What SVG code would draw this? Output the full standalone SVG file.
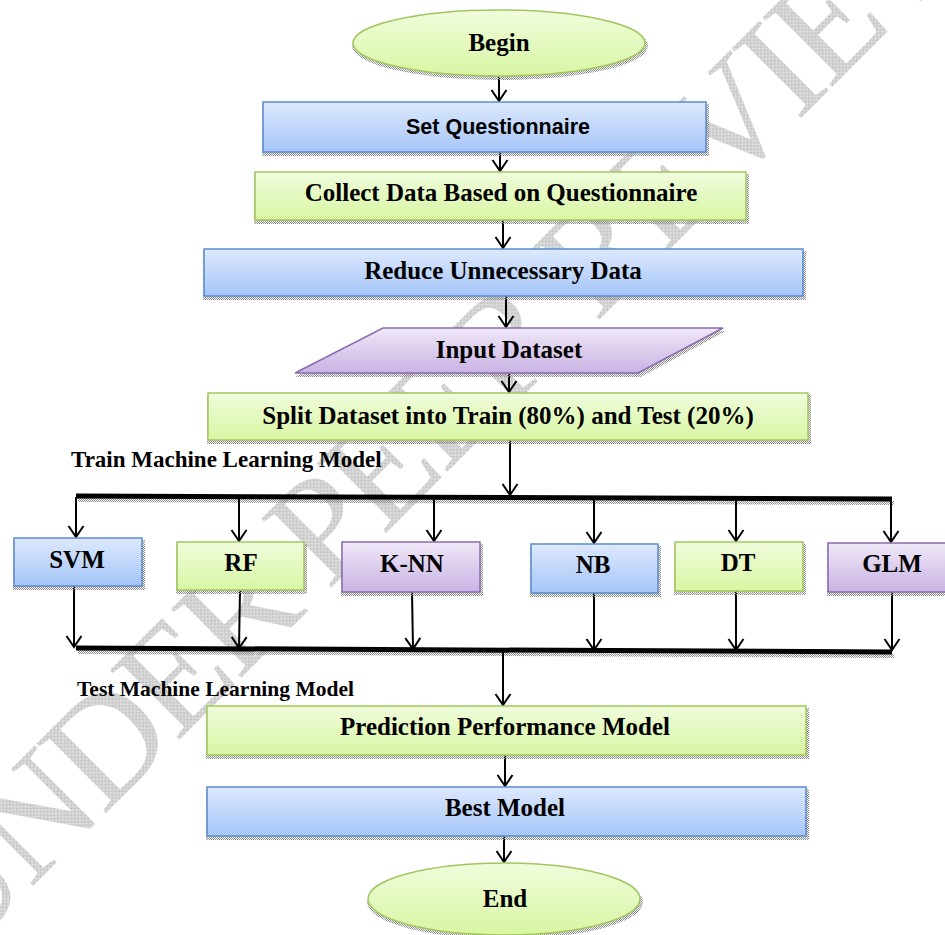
<svg xmlns="http://www.w3.org/2000/svg" width="945" height="935" viewBox="0 0 945 935">
<defs>
<style>
.t{font-family:"Liberation Serif","Times New Roman",serif;font-weight:bold;font-size:25px;fill:#000;text-anchor:middle}
.ts{font-family:"Liberation Sans",Arial,sans-serif;font-weight:bold;font-size:21.5px;fill:#000;text-anchor:middle}
.lbl{font-family:"Liberation Serif","Times New Roman",serif;font-weight:bold;fill:#000}
.blue{fill:url(#gBlue);stroke:#5a8ad0;stroke-width:1.5}
.green{fill:url(#gGreen);stroke:#a2c65e;stroke-width:1.5}
.purple{fill:url(#gPurple);stroke:#8a6bb0;stroke-width:1.5}
.sh{fill:url(#hatch)}
.c{stroke:#000;stroke-width:2;fill:none;marker-end:url(#ah)}
.bus{stroke:#000;stroke-width:5;fill:none}
.bush{stroke:url(#hatch);stroke-width:4;fill:none}
.wm{font-family:"Liberation Serif","Times New Roman",serif;font-size:150px;letter-spacing:-5px;fill:url(#wmh)}
</style>
<linearGradient id="gBlue" x1="0" y1="0" x2="0" y2="1"><stop offset="0" stop-color="#dde9fd"/><stop offset="1" stop-color="#a5c5f8"/></linearGradient>
<linearGradient id="gGreen" x1="0" y1="0" x2="0" y2="1"><stop offset="0" stop-color="#f0fcdc"/><stop offset="1" stop-color="#d8f6a3"/></linearGradient>
<linearGradient id="gPurple" x1="0" y1="0" x2="0" y2="1"><stop offset="0" stop-color="#efe8f7"/><stop offset="1" stop-color="#c9b3e4"/></linearGradient>
<pattern id="hatch" width="2" height="2" patternUnits="userSpaceOnUse"><rect width="1" height="1" fill="#8c8c8c"/><rect x="1" y="1" width="1" height="1" fill="#8c8c8c"/></pattern>
<pattern id="wmh" width="2" height="2" patternUnits="userSpaceOnUse"><rect width="2" height="2" fill="#e8e8e8"/><rect width="1" height="1" fill="#bdbdbd"/><rect x="1" y="1" width="1" height="1" fill="#bdbdbd"/></pattern>
<marker id="ah" markerUnits="userSpaceOnUse" markerWidth="14" markerHeight="20" viewBox="-12 -10 14 20" refX="0" refY="0" orient="auto"><path d="M-11,-7.5 L0,0 L-11,7.5" fill="none" stroke="#000" stroke-width="2"/></marker>
</defs>
<rect width="945" height="935" fill="#fff"/>
<text class="wm" x="-43" y="962" transform="rotate(-45 -43 962)">UNDER PEER REVIEW</text>

<g id="connectors">
<path class="c" d="M499,77 L499,101"/>
<path class="c" d="M500,152 L500,171"/>
<path class="c" d="M503,220 L503,248"/>
<path class="c" d="M506,296 L506,327"/>
<path class="c" d="M509,373 L509,392"/>
<path class="c" d="M510,440 L510,495"/>
<path class="bush" d="M78,500 L894,503"/>
<path class="bus" d="M76,496 L892,499"/>
<path class="c" d="M76,497 L76,537"/>
<path class="c" d="M239,497 L239,541"/>
<path class="c" d="M434,498 L434,541"/>
<path class="c" d="M594,498 L594,543"/>
<path class="c" d="M736,498 L736,541"/>
<path class="c" d="M891,499 L891,542"/>
<path class="c" d="M74,586 L74,647"/>
<path class="c" d="M240,590 L239,648"/>
<path class="c" d="M412,592 L413,649"/>
<path class="c" d="M594,593 L594,650"/>
<path class="c" d="M736,591 L736,650"/>
<path class="c" d="M892,592 L892,650"/>
<path class="bush" d="M78,652 L894,656"/>
<path class="bus" d="M76,648 L892,652"/>
<path class="c" d="M503,652 L503,705"/>
<path class="c" d="M505,755 L505,786"/>
<path class="c" d="M504,836 L504,862"/>
</g>

<g id="begin"><ellipse class="sh" cx="500" cy="46" rx="148" ry="34"/><ellipse class="green" cx="499" cy="43" rx="146" ry="33"/><text class="t" x="499" y="51">Begin</text></g>
<g id="set-questionnaire"><rect class="sh" x="262" y="104" width="447" height="52"/><rect class="blue" x="263" y="102" width="443" height="50"/><text class="ts" x="498" y="134">Set Questionnaire</text></g>
<g id="collect-data"><rect class="sh" x="254" y="174" width="495" height="50"/><rect class="green" x="255" y="172" width="491" height="48"/><text class="t" x="501" y="201">Collect Data Based on Questionnaire</text></g>
<g id="reduce-data"><rect class="sh" x="203" y="251" width="603" height="49"/><rect class="blue" x="204" y="249" width="599" height="47"/><text class="t" x="503" y="279">Reduce Unnecessary Data</text></g>
<g id="input-dataset"><polygon class="sh" points="385,331 726,331 641,377 295,377"/><polygon class="purple" points="383,328 723,328 638,373 295,373"/><text class="t" x="509" y="358">Input Dataset</text></g>
<g id="split-dataset"><rect class="sh" x="207" y="395" width="604" height="49"/><rect class="green" x="208" y="393" width="600" height="47"/><text class="t" x="508" y="424">Split Dataset into Train (80%) and Test (20%)</text></g>
<text class="lbl" x="71" y="467" font-size="23">Train Machine Learning Model</text>

<g id="svm"><rect class="sh" x="13" y="540" width="132" height="50"/><rect class="blue" x="14" y="538" width="128" height="48"/><text class="t" x="77" y="568">SVM</text></g>
<g id="rf"><rect class="sh" x="176" y="544" width="131" height="50"/><rect class="green" x="177" y="542" width="127" height="48"/><text class="t" x="241" y="571">RF</text></g>
<g id="knn"><rect class="sh" x="341" y="544" width="142" height="52"/><rect class="purple" x="342" y="542" width="138" height="50"/><text class="t" x="412" y="572">K-NN</text></g>
<g id="nb"><rect class="sh" x="530" y="546" width="131" height="51"/><rect class="blue" x="531" y="544" width="127" height="49"/><text class="t" x="593" y="573">NB</text></g>
<g id="dt"><rect class="sh" x="674" y="544" width="132" height="51"/><rect class="green" x="675" y="542" width="128" height="49"/><text class="t" x="738" y="571">DT</text></g>
<g id="glm"><rect class="sh" x="827" y="545" width="129" height="51"/><rect class="purple" x="828" y="543" width="125" height="49"/><text class="t" x="892" y="572">GLM</text></g>

<text class="lbl" x="77" y="696" font-size="21.5">Test Machine Learning Model</text>
<g id="prediction"><rect class="sh" x="206" y="708" width="603" height="51"/><rect class="green" x="207" y="706" width="599" height="49"/><text class="t" x="505" y="735">Prediction Performance Model</text></g>
<g id="best-model"><rect class="sh" x="206" y="789" width="603" height="51"/><rect class="blue" x="207" y="787" width="599" height="49"/><text class="t" x="505" y="816">Best Model</text></g>
<g id="end"><ellipse class="sh" cx="505" cy="902" rx="138" ry="37"/><ellipse class="green" cx="504" cy="899" rx="136" ry="36"/><text class="t" x="505" y="907">End</text></g>
</svg>
